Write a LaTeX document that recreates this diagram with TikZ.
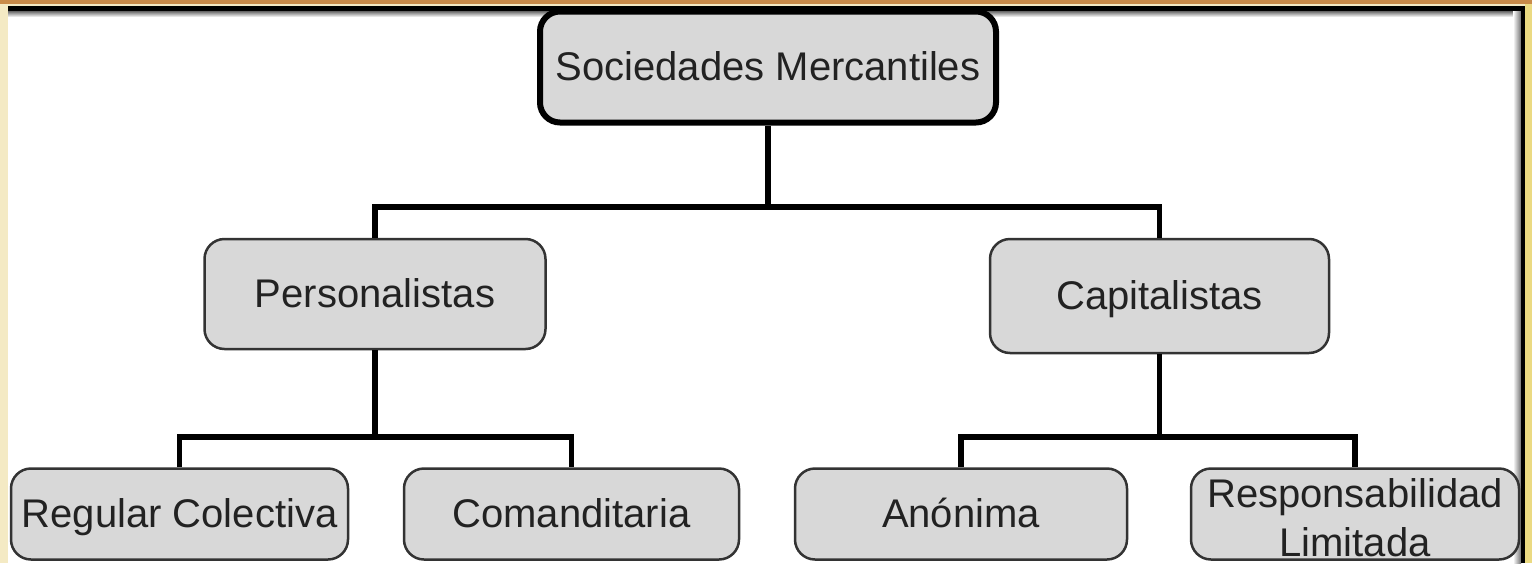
\documentclass[tikz,border=0pt]{standalone}
\usepackage{fontspec}
\setmainfont{Liberation Sans}
\definecolor{boxfill}{HTML}{D8D8D8}
\definecolor{boxline}{HTML}{333333}
\definecolor{textc}{HTML}{222222}
\definecolor{cream}{HTML}{F4EAC4}
\definecolor{goldline}{HTML}{C98B4A}
\definecolor{yelstrip}{HTML}{EBDA82}
\begin{document}
\begin{tikzpicture}[x=1pt,y=-1pt,
  box/.style={draw=boxline, line width=2.5pt, fill=boxfill, rounded corners=20pt,
    inner sep=0pt, text=textc, font=\fontsize{40}{49}\selectfont},
  oneline/.style={text height=30pt, text depth=4pt},
  topbox/.style={box, oneline, draw=black, line width=6pt},
  midbox/.style={box, oneline, minimum height=110pt},
  lowbox/.style={box, minimum height=91pt},
  lbl/.style={text=textc, font=\fontsize{40}{49}\selectfont, align=center, inner sep=0pt},
  conn/.style={line width=5.5pt, draw=black, line join=miter}]
\useasboundingbox (0,0) rectangle (1532,563);
% slide background
\fill[cream] (0,0) rectangle (1532,563);
\fill[yelstrip] (1525,0) rectangle (1532,563);
\fill[goldline] (0,0) rectangle (1532,3.5);
\fill[white] (8,8) rectangle (1522,563);
\shade[top color=black!60, bottom color=white] (8,11) rectangle (1521,17);
\shade[left color=white, right color=black!55] (1513,11) rectangle (1521,563);
% boxes
\node[topbox, minimum width=456pt, minimum height=111pt] (top) at (768,67) {Sociedades Mercantiles};
\node[midbox, minimum width=341pt] (pers) at (375,294) {Personalistas};
\node[midbox, minimum width=339pt, minimum height=114pt] (cap) at (1159.5,296) {Capitalistas};
\node[lowbox, oneline, minimum width=337pt] (reg) at (179.5,514) {Regular Colectiva};
\node[lowbox, oneline, minimum width=335pt] (com) at (571.5,514) {Comanditaria};
\node[lowbox, oneline, minimum width=332pt] (ano) at (961,514) {Anónima};
\node[lowbox, minimum width=328pt,
  label={[lbl, yshift=-4pt]center:Responsabilidad\\Limitada}] (res) at (1355,514) {};
% connectors
\coordinate (b1) at (768,207);
\coordinate (b2) at (375,437);
\coordinate (b3) at (1159.5,437);
\draw[conn] (top.south) -- (b1);
\draw[conn] (pers.north) |- (b1) -| (cap.north);
\draw[conn] (pers.south) -- (b2);
\draw[conn] (reg.north) |- (b2) -| (com.north);
\draw[conn] (cap.south) -- (b3);
\draw[conn] (ano.north) |- (b3) -| (res.north);
% frame lines
\fill[black] (8,6) rectangle (1525,11);
\fill[black] (1521,6) rectangle (1525,563);
\end{tikzpicture}
\end{document}
